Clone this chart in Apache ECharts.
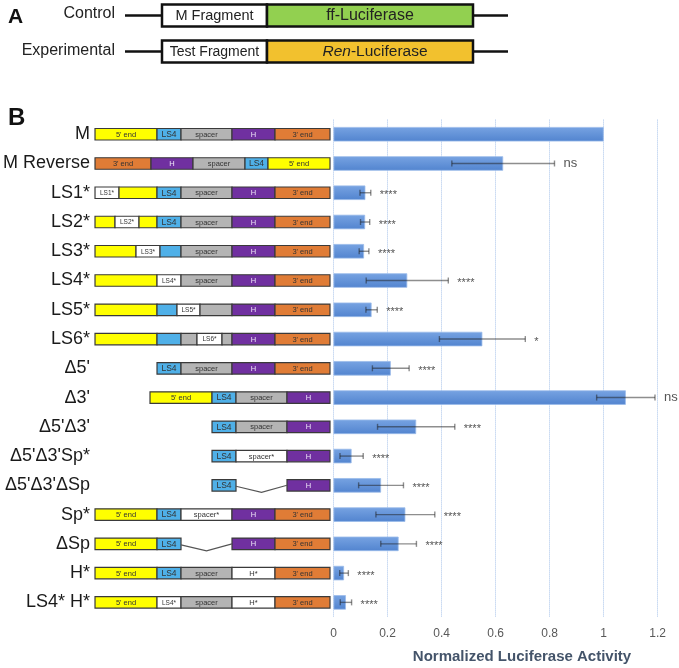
<!DOCTYPE html>
<html><head><meta charset="utf-8">
<script src="https://cdn.jsdelivr.net/npm/echarts@6/dist/echarts.min.js"></script>
<style>html,body{margin:0;padding:0;background:#fff}#c{width:679px;height:668px}</style>
</head><body><div id="c"></div><script>
const constructs = ["M","M Reverse","LS1*","LS2*","LS3*","LS4*","LS5*","LS6*","Δ5'","Δ3'","Δ5'Δ3'","Δ5'Δ3'Sp*","Δ5'Δ3'ΔSp","Sp*","ΔSp","H*","LS4* H*"];
const activity = [1.0,0.628,0.118,0.117,0.113,0.273,0.141,0.551,0.212,1.082,0.306,0.067,0.176,0.266,0.241,0.039,0.046];
const errors = [0,0.19,0.02,0.017,0.018,0.152,0.021,0.159,0.068,0.108,0.143,0.043,0.083,0.109,0.066,0.016,0.021];
const significance = ["","ns","****","****","****","****","****","*","****","ns","****","****","****","****","****","****","****"];
const xMin = 0, xMax = 1.2, xStep = 0.2;
const axisTitle = "Normalized Luciferase Activity";

// construct diagram segments: [row, start, end, kind, text]
const segments = [
 [0,0,62,'Y',"5' end"],[0,62,86,'B','LS4'],[0,86,137,'G','spacer'],[0,137,180,'P','H'],[0,180,235,'O',"3' end"],
 [1,0,56,'O',"3' end"],[1,56,98,'P','H'],[1,98,150,'G','spacer'],[1,150,173,'B','LS4'],[1,173,235,'Y',"5' end"],
 [2,0,24,'W','LS1*'],[2,24,62,'Y',''],[2,62,86,'B','LS4'],[2,86,137,'G','spacer'],[2,137,180,'P','H'],[2,180,235,'O',"3' end"],
 [3,0,20,'Y',''],[3,20,44,'W','LS2*'],[3,44,62,'Y',''],[3,62,86,'B','LS4'],[3,86,137,'G','spacer'],[3,137,180,'P','H'],[3,180,235,'O',"3' end"],
 [4,0,41,'Y',''],[4,41,65,'W','LS3*'],[4,65,86,'B',''],[4,86,137,'G','spacer'],[4,137,180,'P','H'],[4,180,235,'O',"3' end"],
 [5,0,62,'Y',''],[5,62,86,'W','LS4*'],[5,86,137,'G','spacer'],[5,137,180,'P','H'],[5,180,235,'O',"3' end"],
 [6,0,62,'Y',''],[6,62,82,'B',''],[6,82,105,'W','LS5*'],[6,105,137,'G',''],[6,137,180,'P','H'],[6,180,235,'O',"3' end"],
 [7,0,62,'Y',''],[7,62,86,'B',''],[7,86,102,'G',''],[7,102,127,'W','LS6*'],[7,127,137,'G',''],[7,137,180,'P','H'],[7,180,235,'O',"3' end"],
 [8,62,86,'B','LS4'],[8,86,137,'G','spacer'],[8,137,180,'P','H'],[8,180,235,'O',"3' end"],
 [9,55,117,'Y',"5' end"],[9,117,141,'B','LS4'],[9,141,192,'G','spacer'],[9,192,235,'P','H'],
 [10,117,141,'B','LS4'],[10,141,192,'G','spacer'],[10,192,235,'P','H'],
 [11,117,141,'B','LS4'],[11,141,192,'W','spacer*'],[11,192,235,'P','H'],
 [12,117,141,'B','LS4'],[12,192,235,'P','H'],
 [13,0,62,'Y',"5' end"],[13,62,86,'B','LS4'],[13,86,137,'W','spacer*'],[13,137,180,'P','H'],[13,180,235,'O',"3' end"],
 [14,0,62,'Y',"5' end"],[14,62,86,'B','LS4'],[14,137,180,'P','H'],[14,180,235,'O',"3' end"],
 [15,0,62,'Y',"5' end"],[15,62,86,'B','LS4'],[15,86,137,'G','spacer'],[15,137,180,'W','H*'],[15,180,235,'O',"3' end"],
 [16,0,62,'Y',"5' end"],[16,62,86,'W','LS4*'],[16,86,137,'G','spacer'],[16,137,180,'W','H*'],[16,180,235,'O',"3' end"]
];
// deleted spacer links: [row, start, end]
const deletions = [[12,141,192],[14,86,137]];

const kindColors = {Y:'#ffff00', B:'#4fb0e8', G:'#b4b4b4', P:'#7030a0', O:'#e07c36', W:'#ffffff'};
const FONT = 'Liberation Sans, Arial, sans-serif';

const chart = echarts.init(document.getElementById('c'), null, {renderer:'canvas'});
const gridTop = 119.6, gridBottom = 668 - 617;

const option = {
  animation: false,
  backgroundColor: '#fff',
  grid: [
    {left: 333.5, right: 679 - 657.7, top: gridTop, bottom: gridBottom},
    {left: 95, width: 235, top: gridTop, bottom: gridBottom}
  ],
  xAxis: [
    {type:'value', gridIndex:0, min:xMin, max:xMax, interval:xStep,
     axisLine:{show:false}, axisTick:{show:false},
     axisLabel:{color:'#595959', fontSize:12, margin:11, fontFamily:FONT},
     splitLine:{show:true, lineStyle:{color:'#a8c3ea', type:'dotted', width:1}}},
    {type:'value', gridIndex:1, min:0, max:235, show:false}
  ],
  yAxis: [
    {type:'category', gridIndex:0, data:constructs, inverse:true, show:false},
    {type:'category', gridIndex:1, data:constructs, inverse:true,
     axisLine:{show:false}, axisTick:{show:false}, splitLine:{show:false},
     axisLabel:{color:'#1a1a1a', fontSize:18, margin:5, fontFamily:FONT}}
  ],
  graphic: [
    {type:'text', left:8, top:7, style:{text:'A', font:'bold 21px '+FONT, fill:'#111'}},
    {type:'text', left:8, top:106, style:{text:'B', font:'bold 24px '+FONT, fill:'#111'}},
    {type:'text', x:115, y:14, style:{text:'Control', font:'16px '+FONT, fill:'#222', align:'right', verticalAlign:'middle'}},
    {type:'text', x:115, y:51, style:{text:'Experimental', font:'16px '+FONT, fill:'#222', align:'right', verticalAlign:'middle'}},
    {type:'line', shape:{x1:125,y1:15.5,x2:162,y2:15.5}, style:{stroke:'#111', lineWidth:2.5}},
    {type:'line', shape:{x1:473,y1:15.5,x2:508,y2:15.5}, style:{stroke:'#111', lineWidth:2.5}},
    {type:'line', shape:{x1:125,y1:51.5,x2:162,y2:51.5}, style:{stroke:'#111', lineWidth:2.5}},
    {type:'line', shape:{x1:473,y1:51.5,x2:508,y2:51.5}, style:{stroke:'#111', lineWidth:2.5}},
    {type:'rect', shape:{x:162,y:4.5,width:105,height:22}, style:{fill:'#fff', stroke:'#111', lineWidth:2.5}},
    {type:'rect', shape:{x:267,y:4.5,width:206,height:22}, style:{fill:'#92d050', stroke:'#111', lineWidth:2.5}},
    {type:'rect', shape:{x:162,y:40.5,width:105,height:22}, style:{fill:'#fff', stroke:'#111', lineWidth:2.5}},
    {type:'rect', shape:{x:267,y:40.5,width:206,height:22}, style:{fill:'#f2c12e', stroke:'#111', lineWidth:2.5}},
    {type:'text', x:214.5, y:16, style:{text:'M Fragment', font:'14.5px '+FONT, fill:'#222', align:'center', verticalAlign:'middle'}},
    {type:'text', x:370, y:16, style:{text:'ff-Luciferase', font:'16px '+FONT, fill:'#222', align:'center', verticalAlign:'middle'}},
    {type:'text', x:214.5, y:52, style:{text:'Test Fragment', font:'14px '+FONT, fill:'#222', align:'center', verticalAlign:'middle'}},
    {type:'text', x:375, y:52, style:{text:'{i|Ren}-Luciferase', font:'15.5px '+FONT, fill:'#222', align:'center', verticalAlign:'middle',
      rich:{i:{fontStyle:'italic', fontSize:15.5, fontFamily:FONT, fill:'#222'}}}},
    {type:'text', x:522, y:657, style:{text:axisTitle, font:'bold 15px '+FONT, fill:'#44546a', align:'center', verticalAlign:'middle'}}
  ],
  series: [
    {type:'bar', xAxisIndex:0, yAxisIndex:0, data:activity, barWidth:14.5,
     itemStyle:{color:new echarts.graphic.LinearGradient(0,0,0,1,[{offset:0,color:'#77a3e2'},{offset:1,color:'#5284cf'}]),
       borderColor:'#9bbbea', borderWidth:0.8}},
    {type:'custom', xAxisIndex:0, yAxisIndex:0, clip:false, z:5,
     data: activity.map((v,i)=>[v,i,errors[i]]),
     encode:{x:0, y:1},
     renderItem:function(params, api){
       const v = api.value(0), i = api.value(1), e = api.value(2);
       const ch = [];
       const st = {stroke:'rgba(30,30,30,0.5)', lineWidth:1.4};
       if (e > 0) {
         const a = api.coord([v-e, i]), b = api.coord([v+e, i]);
         ch.push({type:'line', shape:{x1:a[0],y1:a[1],x2:b[0],y2:b[1]}, style:st});
         ch.push({type:'line', shape:{x1:a[0],y1:a[1]-3,x2:a[0],y2:a[1]+3}, style:st});
         ch.push({type:'line', shape:{x1:b[0],y1:b[1]-3,x2:b[0],y2:b[1]+3}, style:st});
       }
       const lab = significance[i];
       if (lab) {
         const end = api.coord([v+e, i]);
         const isNs = lab === 'ns';
         ch.push({type:'text', style:{text:lab, x:end[0]+9, y:end[1] + (isNs ? 0 : 2.5),
           align:'left', verticalAlign:'middle', fontSize: isNs ? 13 : 11, fontFamily:FONT, fill:'#555'}});
       }
       return {type:'group', children:ch};
     }},
    {type:'custom', xAxisIndex:1, yAxisIndex:1, clip:false,
     data: segments.map(s=>[s[1], s[0], s[2]]),
     encode:{x:[0,2], y:1},
     renderItem:function(params, api){
       const s = segments[params.dataIndex];
       const p0 = api.coord([api.value(0), api.value(1)]);
       const p1 = api.coord([api.value(2), api.value(1)]);
       const h = 11.5;
       const ch = [{type:'rect', shape:{x:p0[0], y:p0[1]-h/2, width:p1[0]-p0[0], height:h},
         style:{fill:kindColors[s[3]], stroke:'#3a3a3a', lineWidth:1.2}}];
       if (s[4]) {
         const small = s[3] === 'W' && s[4] !== 'H*' && s[4] !== 'spacer*';
         ch.push({type:'text', style:{text:s[4], x:(p0[0]+p1[0])/2, y:p0[1]+0.5, align:'center', verticalAlign:'middle',
           fontSize: small ? 6.5 : (s[4]==='LS4' ? 8.5 : 7.5), fontFamily:FONT,
           fill: s[3]==='P' ? '#eee6f7' : '#333'}});
       }
       return {type:'group', children:ch};
     }},
    {type:'custom', xAxisIndex:1, yAxisIndex:1, clip:false,
     data: deletions.map(d=>[d[1], d[0], d[2]]),
     encode:{x:[0,2], y:1},
     renderItem:function(params, api){
       const a = api.coord([api.value(0), api.value(1)]);
       const b = api.coord([api.value(2), api.value(1)]);
       const m = [(a[0]+b[0])/2, a[1]+7];
       return {type:'polyline', shape:{points:[[a[0],a[1]+1],m,[b[0],b[1]]]}, style:{stroke:'#555', lineWidth:1.1, fill:null}};
     }}
  ]
};
chart.setOption(option);
</script></body></html>
